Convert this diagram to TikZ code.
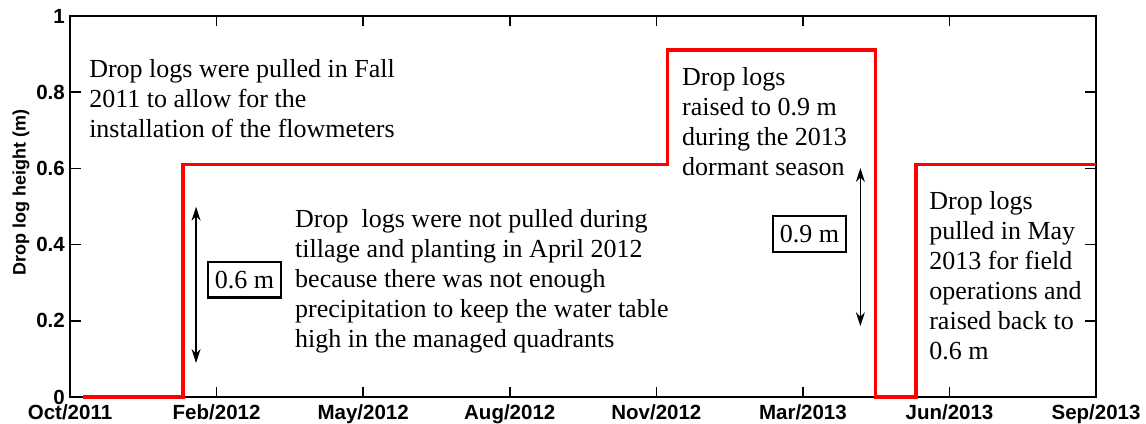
\documentclass[tikz,border=0pt]{standalone}
\usepackage{fontspec}
\setmainfont{Liberation Serif}
\newfontfamily\axisfont{Liberation Sans}
\usepackage{tikz}
\usetikzlibrary{arrows.meta}
\newcommand{\notefont}{\fontsize{26}{30}\selectfont}
\newcommand{\tickfont}{\axisfont\bfseries\fontsize{20.5}{22}\selectfont}

\tikzset{
  note/.style={anchor=north west, inner sep=0pt, align=left, font=\notefont},
  valbox/.style={draw, line width=2.2pt, font=\notefont, inner xsep=7pt,
    inner ysep=9pt, text height=17.6pt, text depth=0pt},
  span/.style={{Stealth[length=14pt,width=9pt]}-{Stealth[length=14pt,width=9pt]},
    line width=1.3pt},
  logline/.style={red, line width=3.5pt, line join=miter},
  axisline/.style={line width=1.5pt}
}

\begin{document}
\begin{tikzpicture}[x=146.57pt, y=381pt]
  \useasboundingbox (-0.4776,-0.0682) rectangle (7.3405,1.042);

  % axes box and ticks
  \draw[axisline] (0,0) rectangle (7,1);
  \foreach \i in {1,...,6} {
    \draw[axisline] (\i,0) -- ++(0,10pt);
    \draw[axisline] (\i,1) -- ++(0,-10pt);
  }
  \foreach \v in {0.2,0.4,0.6,0.8} {
    \draw[axisline] (0,\v) -- ++(11pt,0);
    \draw[axisline] (7,\v) -- ++(-11pt,0);
  }

  \foreach \v in {0,0.2,0.4,0.6,0.8,1}
    \node[anchor=east, inner sep=0pt, font=\tickfont, xshift=-5pt]
      (yl\v) at (0,\v) {\v};

  \foreach \i/\m/\yr in {0/Oct/2011, 1/Feb/2012, 2/May/2012, 3/Aug/2012,
                         4/Nov/2012, 5/Mar/2013, 6/Jun/2013, 7/Sep/2013}
    \node[anchor=base, inner sep=0pt, font=\tickfont]
      (xl\i) at (\i,-0.0577) {\m/\yr};

  \node[rotate=90, inner sep=0pt, font=\axisfont\bfseries\fontsize{18}{20}\selectfont]
    (ylabel) at (-0.334,0.538) {Drop log height (m)};

  % drop log height
  \draw[logline]
    (0.089,0) -- (0.771,0) -- (0.771,0.61) -- (4.077,0.61) -- (4.077,0.911)
    -- (5.494,0.911) -- (5.494,0) -- (5.770,0) -- (5.770,0.61) -- (7,0.61);

  % notes
  \node[note] (fall) at (0.13,0.8866)
    {Drop logs were pulled in Fall\\2011 to allow for the\\installation of the flowmeters};

  \node[note] (tillage) at (1.535,0.4929)
    {Drop~~logs were not pulled during\\tillage and planting in April 2012\\because there was not enough\\precipitation to keep the water table\\high in the managed quadrants};

  \node[note] (dormant) at (4.175,0.8656)
    {Drop logs\\raised to 0.9 m\\during the 2013\\dormant season};

  \node[note] (may) at (5.861,0.540)
    {Drop logs\\pulled in May\\2013 for field\\operations and\\raised back to\\0.6 m};

  % heights
  \node[valbox] (h06) at (1.19,0.308) {0.6 m};
  \node[valbox] (h09) at (5.045,0.428) {0.9 m};

  \coordinate (lo06) at (0.860,0.0892);
  \coordinate (hi06) at (0.860,0.4995);
  \coordinate (lo09) at (5.392,0.186);
  \coordinate (hi09) at (5.392,0.601);

  \draw[span] (lo06) -- (hi06);
  \draw[span] (lo09) -- (hi09);
\end{tikzpicture}
\end{document}
